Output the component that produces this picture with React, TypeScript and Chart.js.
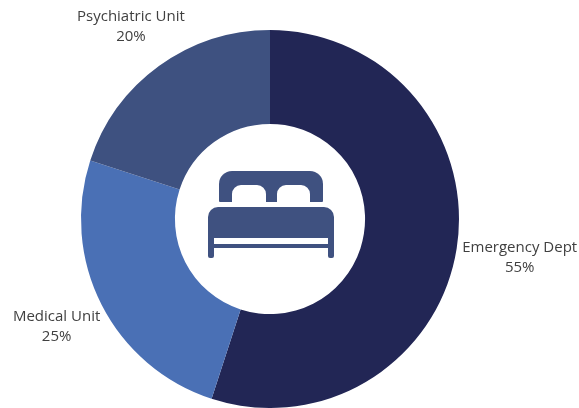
import React, { useEffect, useRef } from "react";
import { Chart, registerables } from "chart.js";

Chart.register(...registerables);

const categories = ["Emergency Dept", "Medical Unit", "Psychiatric Unit"];
const shares = [55, 25, 20];
const sliceColors = ["#222655", "#4a70b5", "#3e5180"];
const ICON = "#3f5180";
const TEXT = "#404040";

// Offsets of each label block centre from the arc's outer mid-point
const labelOffsets = [
  { dx: 63, dy: 9 },
  { dx: -45, dy: 22 },
  { dx: -28, dy: -39 },
];

const labelsPlugin = {
  id: "sliceLabels",
  afterDatasetsDraw(chart: any) {
    const { ctx } = chart;
    const arcs = chart.getDatasetMeta(0).data;
    ctx.save();
    ctx.font = '500 15px "Open Sans", Lato, sans-serif';
    ctx.fillStyle = TEXT;
    ctx.textAlign = "center";
    ctx.textBaseline = "middle";
    arcs.forEach((arc: any, i: number) => {
      const mid = (arc.startAngle + arc.endAngle) / 2;
      const x = arc.x + Math.cos(mid) * arc.outerRadius + labelOffsets[i].dx;
      const y = arc.y + Math.sin(mid) * arc.outerRadius + labelOffsets[i].dy;
      ctx.fillText(categories[i], x, y - 10);
      ctx.fillText(`${shares[i]}%`, x, y + 10);
    });
    ctx.restore();
  },
};

const bedPlugin = {
  id: "bedIcon",
  afterDatasetsDraw(chart: any) {
    const { ctx } = chart;
    const arc = chart.getDatasetMeta(0).data[0];
    ctx.save();
    ctx.translate(arc.x - 270, arc.y - 219);
    ctx.fillStyle = ICON;
    // headboard
    ctx.beginPath();
    ctx.roundRect(219, 171, 104, 31, [13, 13, 1, 1]);
    ctx.fill();
    // pillows
    ctx.fillStyle = "#ffffff";
    ctx.beginPath();
    ctx.roundRect(232, 185, 34, 18, [9, 9, 0, 0]);
    ctx.roundRect(277, 185, 33, 18, [9, 9, 0, 0]);
    ctx.fill();
    ctx.fillStyle = ICON;
    // mattress
    ctx.beginPath();
    ctx.roundRect(208, 207, 126, 31, [10, 10, 0, 0]);
    ctx.fill();
    // legs and lower rail
    ctx.beginPath();
    ctx.roundRect(208, 236, 6, 22, [0, 0, 2, 2]);
    ctx.roundRect(328, 236, 6, 22, [0, 0, 2, 2]);
    ctx.rect(208, 244, 126, 4);
    ctx.fill();
    ctx.restore();
  },
};

export default function App() {
  const ref = useRef<HTMLCanvasElement | null>(null);

  useEffect(() => {
    document.body.style.margin = "0";
    document.body.style.background = "#ffffff";
    const chart = new Chart(ref.current as HTMLCanvasElement, {
      type: "doughnut",
      data: {
        labels: categories,
        datasets: [
          {
            data: shares,
            backgroundColor: sliceColors,
            borderWidth: 0,
          },
        ],
      },
      options: {
        responsive: false,
        animation: false,
        cutout: "50.3%",
        layout: { padding: { left: 81, right: 120, top: 30, bottom: 0 } },
        plugins: { legend: { display: false }, tooltip: { enabled: false } },
      },
      plugins: [labelsPlugin, bedPlugin],
    });
    return () => chart.destroy();
  }, []);

  return <canvas ref={ref} width={579} height={408} style={{ display: "block" }} />;
}
